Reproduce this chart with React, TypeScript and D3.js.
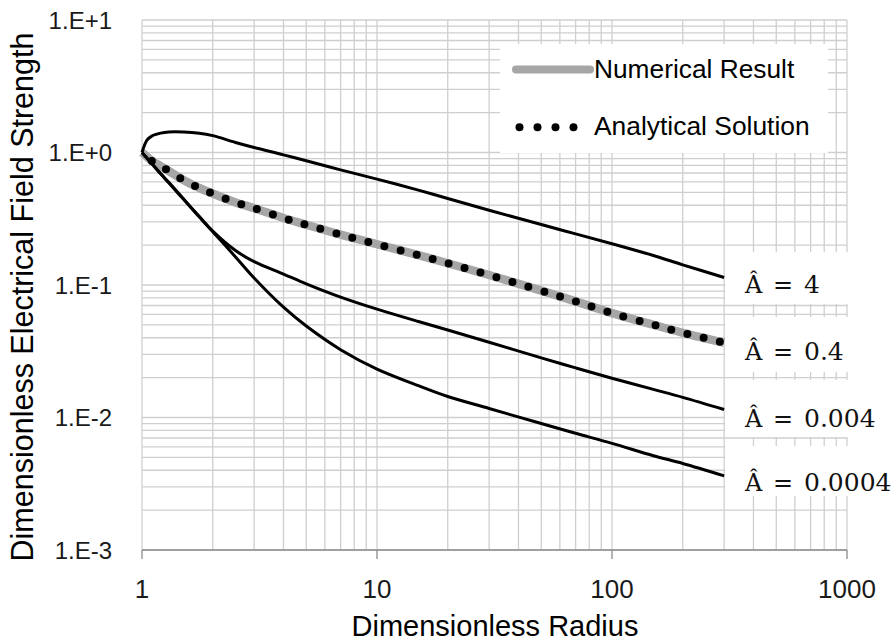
import React from 'react';
import * as d3 from 'd3';

// dimensionless radius (x) shared by all curves
const radius = [1, 1.05, 1.1, 1.2, 1.3, 1.5, 1.75, 2, 2.5, 3, 4, 5, 7, 10, 15, 20, 30, 50, 70, 100, 150, 200, 300];

// dimensionless field strength for each A-hat
const fieldA4 = [1, 1.24, 1.33, 1.4, 1.43, 1.43, 1.4, 1.34, 1.19, 1.09, 0.96, 0.866, 0.74, 0.63, 0.52, 0.45, 0.367, 0.286, 0.243, 0.205, 0.167, 0.142, 0.114];
const fieldA04 = [1, 0.93, 0.865, 0.79, 0.725, 0.62, 0.54, 0.49, 0.42, 0.38, 0.32, 0.285, 0.24, 0.203, 0.168, 0.146, 0.119, 0.0906, 0.0753, 0.0614, 0.0501, 0.0436, 0.0367];
const fieldA0004 = [1, 0.905, 0.825, 0.69, 0.59, 0.445, 0.33, 0.255, 0.182, 0.15, 0.121, 0.102, 0.081, 0.0657, 0.053, 0.0458, 0.037, 0.0282, 0.0237, 0.0198, 0.0163, 0.0142, 0.0115];
const fieldA00004 = [1, 0.907, 0.826, 0.694, 0.595, 0.447, 0.327, 0.252, 0.163, 0.113, 0.068, 0.049, 0.0325, 0.0232, 0.0174, 0.0144, 0.0117, 0.009, 0.0076, 0.00638, 0.00515, 0.0045, 0.00363];

const xTicks = [1, 10, 100, 1000];
const yTicks = [1e1, 1e0, 1e-1, 1e-2, 1e-3];
const yTickLabels = ['1.E+1', '1.E+0', '1.E-1', '1.E-2', '1.E-3'];
const curveLabels = ['4', '0.4', '0.004', '0.0004'];

const sans = '"Liberation Sans", Arial, sans-serif';
const serif = '"DejaVu Serif", serif';

export default function App() {
  const W = 896;
  const H = 642;
  const x = d3.scaleLog().domain([1, 1000]).range([142, 847]);
  const y = d3.scaleLog().domain([0.001, 10]).range([550, 20]);

  const line = d3
    .line<number>()
    .x((_, i) => x(radius[i]))
    .y((d) => y(d))
    .curve(d3.curveCatmullRom.alpha(0.5));

  // minor + major grid values
  const xGrid: number[] = [];
  for (let p = 0; p < 3; p++) for (let k = 1; k <= 9; k++) xGrid.push(k * 10 ** p);
  xGrid.push(1000);
  const yGrid: number[] = [];
  for (let p = -3; p < 1; p++) for (let k = 1; k <= 9; k++) yGrid.push(k * 10 ** p);
  yGrid.push(10);

  const black = [fieldA4, fieldA0004, fieldA00004];
  const lastX = x(radius[radius.length - 1]);

  // white boxes behind the curve labels
  const labelBoxes = [
    [252, 304],
    [317, 372],
    [380, 437],
    [446, 496],
  ];
  const labelBase = [293, 360, 427, 491];

  return (
    <svg width={W} height={H} style={{ position: 'absolute', left: 0, top: 0, background: '#fff' }}>
      <g stroke="#cfcfcf" strokeWidth={1.3}>
        {xGrid.map((v) => (
          <line key={'gx' + v} x1={x(v)} x2={x(v)} y1={y(10)} y2={y(0.001)} />
        ))}
        {yGrid.map((v) => (
          <line key={'gy' + v} x1={x(1)} x2={x(1000)} y1={y(v)} y2={y(v)} />
        ))}
      </g>

      {/* bottom axis */}
      <g stroke="#8c8c8c" strokeWidth={1.3}>
        <line x1={x(1)} x2={x(1000)} y1={y(0.001)} y2={y(0.001)} />
        {xTicks.map((v) => (
          <line key={'tx' + v} x1={x(v)} x2={x(v)} y1={y(0.001)} y2={y(0.001) + 9} />
        ))}
      </g>

      {xTicks.map((v) => (
        <text key={'lx' + v} x={x(v)} y={598} textAnchor="middle" fontFamily={sans} fontSize={26} fill="#1a1a1a">
          {v}
        </text>
      ))}
      {yTicks.map((v, i) => (
        <text key={'ly' + v} x={112} y={y(v) + 8.5} textAnchor="end" fontFamily={sans} fontSize={24} fill="#1a1a1a">
          {yTickLabels[i]}
        </text>
      ))}

      <text x={495} y={636} textAnchor="middle" fontFamily={sans} fontSize={29} fill="#000">
        Dimensionless Radius
      </text>
      <text
        transform="translate(33,297) rotate(-90)"
        textAnchor="middle"
        fontFamily={sans}
        fontSize={30.5}
        fill="#000"
      >
        Dimensionless Electrical Field Strength
      </text>

      {/* legend */}
      <rect x={500} y={44} width={328} height={109} fill="#fff" />
      <line x1={516} x2={590} y1={69.5} y2={69.5} stroke="#a6a6a6" strokeWidth={8} strokeLinecap="round" />
      <text x={594} y={77.5} fontFamily={sans} fontSize={26.3} fill="#000">
        Numerical Result
      </text>
      {[0, 1, 2, 3].map((k) => (
        <circle key={'ld' + k} cx={519.5 + k * 18} cy={127.3} r={4} fill="#000" />
      ))}
      <text x={594} y={134.5} fontFamily={sans} fontSize={26.4} fill="#000">
        Analytical Solution
      </text>

      {/* curve labels */}
      {labelBoxes.map(([a, b], i) => (
        <rect key={'lb' + i} x={lastX + 1} y={a} width={W - lastX - 4} height={b - a} fill="#fff" />
      ))}
      {curveLabels.map((t, i) => (
        <text key={'cl' + i} y={labelBase[i]} fontFamily={serif} fontSize={24} fill="#111">
          <tspan x={745}>Â</tspan>
          <tspan x={773}>=</tspan>
          <tspan x={804} fontSize={25}>{t}</tspan>
        </text>
      ))}

      {/* curves */}
      <path d={line(fieldA04) || ''} fill="none" stroke="#a6a6a6" strokeWidth={8.5} />
      <path
        d={line(fieldA04) || ''}
        fill="none"
        stroke="#000"
        strokeWidth={8}
        strokeLinecap="round"
        strokeDasharray="0 16.6"
        strokeDashoffset={-13}
      />
      {black.map((s, i) => (
        <path key={'c' + i} d={line(s) || ''} fill="none" stroke="#000" strokeWidth={3} strokeLinejoin="round" />
      ))}
    </svg>
  );
}
